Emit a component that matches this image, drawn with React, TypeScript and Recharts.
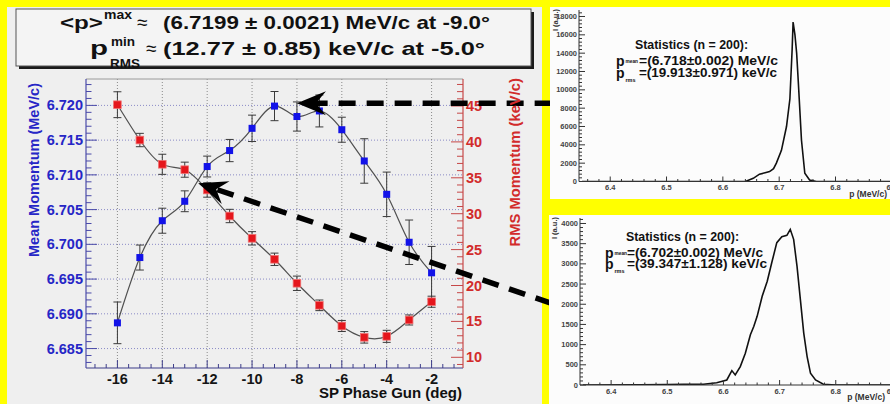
import React from 'react';
import { ComposedChart, LineChart, Line, XAxis, YAxis, ErrorBar, ReferenceLine } from 'recharts';

const FONT = "'Liberation Sans', Arial, Helvetica, sans-serif";

// ---------- main scan data ----------
const phaseDeg = [-16, -15, -14, -13, -12, -11, -10, -9, -8, -7, -6, -5, -4, -3, -2];
const meanMomentum = [6.6887, 6.6981, 6.7034, 6.7062, 6.7112, 6.7135, 6.7167, 6.7199, 6.7184, 6.7192, 6.7165, 6.712, 6.7072, 6.7003, 6.6959];
const meanError = [0.003, 0.0018, 0.0018, 0.0015, 0.0015, 0.0016, 0.0019, 0.0021, 0.0021, 0.0023, 0.0018, 0.0032, 0.0032, 0.0032, 0.0038];
const rmsMomentum = [45.18, 40.26, 36.88, 36.13, 33.3, 29.68, 26.57, 23.65, 20.31, 17.24, 14.36, 12.78, 12.92, 15.2, 17.74];
const rmsError = [1.8, 0.93, 1.4, 1.05, 1.0, 0.93, 0.93, 0.86, 1.0, 0.74, 0.77, 0.8, 0.84, 0.7, 0.77];

const phaseTicks = [-16, -14, -12, -10, -8, -6, -4, -2];
const phaseTickLabels = ['-16', '-14', '-12', '-10', '-8', '-6', '-4', '-2'];
const meanTicks = [6.685, 6.69, 6.695, 6.7, 6.705, 6.71, 6.715, 6.72];
const meanTickLabels = ['6.685', '6.690', '6.695', '6.700', '6.705', '6.710', '6.715', '6.720'];
const rmsTicks = [10, 15, 20, 25, 30, 35, 40, 45];
const rmsTickLabels = ['10', '15', '20', '25', '30', '35', '40', '45'];

const phaseDomain = [-17.4, -0.6];
const meanDomain = [6.6822, 6.7238];
const rmsDomain = [8.51, 48.76];

// annotation arrows (data coordinates, left axis): [tail, tip]
const arrowMax = [{ x: 3.35, y: 6.7203 }, { x: -8.0, y: 6.7203 }];
const arrowMin = [{ x: 3.35, y: 6.6915 }, { x: -12.4, y: 6.7088 }];

// ---------- histograms ----------
const topP = [6.35, 6.6, 6.64, 6.654, 6.665, 6.675, 6.683, 6.69, 6.695, 6.704, 6.713, 6.719, 6.723, 6.7247, 6.728, 6.731, 6.734, 6.7396, 6.7455, 6.754, 6.766, 6.95];
const topI = [0, 0, 0, 350, 800, 950, 1080, 1400, 2000, 3400, 6000, 9000, 14400, 17400, 16000, 14000, 10800, 4500, 900, 160, 0, 0];
const botP = [6.35, 6.45, 6.5, 6.53, 6.5645, 6.588, 6.606, 6.615, 6.621, 6.63, 6.639, 6.648, 6.654, 6.66, 6.669, 6.678, 6.686, 6.695, 6.704, 6.713, 6.719, 6.725, 6.731, 6.737, 6.743, 6.749, 6.755, 6.764, 6.778, 6.8, 6.95];
const botI = [0, 5, 10, 15, 20, 57, 124, 356, 250, 455, 788, 1244, 1450, 1700, 2197, 2570, 3027, 3525, 3674, 3706, 3855, 3607, 2942, 2114, 1286, 704, 291, 124, 20, 0, 0];

const histPTicks = [6.4, 6.5, 6.6, 6.7, 6.8, 6.9];
const histPTickLabels = ['6.4', '6.5', '6.6', '6.7', '6.8', '6.9'];
const topITicks = [0, 2000, 4000, 6000, 8000, 10000, 12000, 14000, 16000, 18000];
const topITickLabels = ['0', '2000', '4000', '6000', '8000', '10000', '12000', '14000', '16000', '18000'];
const botITicks = [0, 500, 1000, 1500, 2000, 2500, 3000, 3500, 4000];
const botITickLabels = ['0', '500', '1000', '1500', '2000', '2500', '3000', '3500', '4000'];
const histPDomain = [6.3446, 6.95];
const topIDomain = [0, 18709];
const botIDomain = [0, 4136];

// ---------- helpers ----------
const range = (a: number, b: number, s: number) => {
  const out: number[] = [];
  const n = Math.round((b - a) / s);
  for (let i = 0; i <= n; i++) out.push(+(a + i * s).toFixed(6));
  return out;
};

const phaseMinor = range(-17, -1, 0.5);
const meanMinor = range(6.683, 6.723, 0.001);
const rmsMinor = range(9, 48, 1);
const histPMinor = range(6.36, 6.94, 0.02);
const topIMinor = range(0, 18400, 400);
const botIMinor = range(0, 4100, 100);

const scanRows = phaseDeg.map((x, i) => ({
  x,
  mean: meanMomentum[i],
  meanErr: meanError[i],
  rms: rmsMomentum[i],
  rmsErr: rmsError[i],
}));
const topRows = topP.map((p, i) => ({ p, i: topI[i] }));
const botRows = botP.map((p, i) => ({ p, i: botI[i] }));

type TickOpts = {
  side: 'left' | 'right' | 'bottom';
  majors: number[];
  labels: string[];
  majorLen: number;
  minorLen: number;
  lineColor: string;
  textColor: string;
  fontSize: number;
  bold: boolean;
  gap: number;
};

const makeTick = (o: TickOpts) => (props: any) => {
  const { x, y, payload } = props;
  const v = Number(payload?.value);
  const idx = o.majors.findIndex((m) => Math.abs(m - v) < 1e-6);
  const major = idx >= 0;
  const len = major ? o.majorLen : o.minorLen;
  const tp = {
    fill: o.textColor,
    fontSize: o.fontSize,
    fontWeight: o.bold ? 'bold' : 'normal',
    fontFamily: FONT,
  } as any;
  if (o.side === 'left') {
    return (
      <g>
        <line x1={x} x2={x + len} y1={y} y2={y} stroke={o.lineColor} strokeWidth={1} />
        {major && (
          <text x={x - o.gap} y={y} textAnchor="end" dominantBaseline="central" {...tp}>
            {o.labels[idx]}
          </text>
        )}
      </g>
    );
  }
  if (o.side === 'right') {
    return (
      <g>
        <line x1={x} x2={x - len} y1={y} y2={y} stroke={o.lineColor} strokeWidth={1} />
        {major && (
          <text x={x + o.gap} y={y} textAnchor="start" dominantBaseline="central" {...tp}>
            {o.labels[idx]}
          </text>
        )}
      </g>
    );
  }
  return (
    <g>
      <line x1={x} x2={x} y1={y} y2={y - len} stroke={o.lineColor} strokeWidth={1} />
      {major && (
        <text x={x} y={y + o.gap} textAnchor="middle" dominantBaseline="central" {...tp}>
          {o.labels[idx]}
        </text>
      )}
    </g>
  );
};

const BLUE_TEXT = '#2626c6';
const BLUE_AXIS = '#4a4aa8';
const RED_TEXT = '#d22b2b';
const RED_AXIS = '#c64848';
const NAVY = '#3d3d8a';

const meanTick = makeTick({ side: 'left', majors: meanTicks, labels: meanTickLabels, majorLen: 11, minorLen: 5.5, lineColor: BLUE_AXIS, textColor: BLUE_TEXT, fontSize: 14.5, bold: true, gap: 3 });
const rmsTick = makeTick({ side: 'right', majors: rmsTicks, labels: rmsTickLabels, majorLen: 12, minorLen: 6, lineColor: RED_AXIS, textColor: RED_TEXT, fontSize: 14.5, bold: true, gap: 3 });
const phaseTick = makeTick({ side: 'bottom', majors: phaseTicks, labels: phaseTickLabels, majorLen: 8, minorLen: 4, lineColor: NAVY, textColor: '#151515', fontSize: 14.5, bold: true, gap: 11 });

const hpTick = makeTick({ side: 'bottom', majors: histPTicks, labels: histPTickLabels, majorLen: 5, minorLen: 2.5, lineColor: '#333', textColor: '#444', fontSize: 7.5, bold: true, gap: 6 });
const topITick = makeTick({ side: 'left', majors: topITicks, labels: topITickLabels, majorLen: 6, minorLen: 3, lineColor: '#333', textColor: '#444', fontSize: 7.5, bold: true, gap: 2 });
const botITick = makeTick({ side: 'left', majors: botITicks, labels: botITickLabels, majorLen: 6, minorLen: 3, lineColor: '#333', textColor: '#444', fontSize: 7.5, bold: true, gap: 2 });

const ArrowShape = (props: any) => {
  const { x1, y1, x2, y2 } = props;
  const dx = x2 - x1;
  const dy = y2 - y1;
  const len = Math.hypot(dx, dy) || 1;
  const ux = dx / len;
  const uy = dy / len;
  const px = -uy;
  const py = ux;
  const L = 29;
  const W = 12;
  const N = 19;
  const bx = x2 - ux * L;
  const by = y2 - uy * L;
  const nx = x2 - ux * N;
  const ny = y2 - uy * N;
  return (
    <g>
      <line x1={x1} y1={y1} x2={nx} y2={ny} stroke="#000" strokeWidth={5.5} strokeDasharray="17 11" />
      <polygon points={`${x2},${y2} ${bx + px * W},${by + py * W} ${nx},${ny} ${bx - px * W},${by - py * W}`} fill="#000" />
    </g>
  );
};

const blueDot = (p: any) => (
  <rect key={`b${p.index}`} x={p.cx - 3.5} y={p.cy - 3.5} width={7} height={7} fill="#1212e8" />
);
const redDot = (p: any) => (
  <rect key={`r${p.index}`} x={p.cx - 3.8} y={p.cy - 3.8} width={7.6} height={7.6} fill="#e5161c" stroke="#f07070" strokeWidth={0.8} />
);

function MainChart() {
  return (
    <ComposedChart width={560} height={404} data={scanRows} margin={{ top: 79, right: 0, bottom: 0, left: 0 }}>
      <XAxis
        dataKey="x"
        type="number"
        domain={phaseDomain}
        allowDataOverflow
        ticks={phaseMinor}
        interval={0}
        tickSize={0}
        tickMargin={0}
        tickLine={false}
        axisLine={{ stroke: NAVY, strokeWidth: 1.2 }}
        height={36}
        tick={phaseTick}
      />
      <YAxis
        yAxisId="l"
        orientation="left"
        type="number"
        width={86}
        domain={meanDomain}
        allowDataOverflow
        ticks={meanMinor}
        interval={0}
        tickSize={0}
        tickMargin={0}
        tickLine={false}
        axisLine={{ stroke: BLUE_AXIS, strokeWidth: 1.2 }}
        tick={meanTick}
      />
      <YAxis
        yAxisId="r"
        orientation="right"
        type="number"
        width={97}
        domain={rmsDomain}
        allowDataOverflow
        ticks={rmsMinor}
        interval={0}
        tickSize={0}
        tickMargin={0}
        tickLine={false}
        axisLine={{ stroke: RED_AXIS, strokeWidth: 1.2 }}
        tick={rmsTick}
      />
      {meanTicks.map((v) => (
        <ReferenceLine key={`hg${v}`} yAxisId="l" y={v} stroke="#8a8ac6" strokeDasharray="1 2" />
      ))}
      {phaseTicks.map((v) => (
        <ReferenceLine key={`vg${v}`} yAxisId="l" x={v} stroke="#8a8a8a" strokeDasharray="1 2" />
      ))}
      <ReferenceLine yAxisId="l" y={meanDomain[1]} stroke="#9a9a9a" />
      <Line
        yAxisId="l"
        dataKey="mean"
        type="natural"
        stroke="#505050"
        strokeWidth={1.2}
        dot={blueDot}
        activeDot={false}
        isAnimationActive={false}
      >
        <ErrorBar dataKey="meanErr" direction="y" width={4} stroke="#3a3a3a" strokeWidth={1} isAnimationActive={false} />
      </Line>
      <Line
        yAxisId="r"
        dataKey="rms"
        type="natural"
        stroke="#505050"
        strokeWidth={1.2}
        dot={redDot}
        activeDot={false}
        isAnimationActive={false}
      >
        <ErrorBar dataKey="rmsErr" direction="y" width={4} stroke="#3a3a3a" strokeWidth={1} isAnimationActive={false} />
      </Line>
      <ReferenceLine yAxisId="l" segment={arrowMax} ifOverflow="visible" shape={ArrowShape} zIndex={2000} />
      <ReferenceLine yAxisId="l" segment={arrowMin} ifOverflow="visible" shape={ArrowShape} zIndex={2000} />
    </ComposedChart>
  );
}

function Header() {
  const t = { fontFamily: FONT, fontWeight: 'bold', fill: '#111' } as any;
  return (
    <svg width={545} height={75} style={{ position: 'absolute', left: 0, top: 0 }}>
      <rect x={19} y={12} width={515} height={57} fill="#1a1a1a" />
      <rect x={16} y={9} width={515} height={57} fill="#f4f4f4" stroke="#555" strokeWidth={1} />
      <text x={60} y={28.5} fontSize={19} textLength={43} lengthAdjust="spacingAndGlyphs" {...t}>&lt;p&gt;</text>
      <text x={104} y={18.5} fontSize={13} textLength={28} lengthAdjust="spacingAndGlyphs" {...t}>max</text>
      <text x={137} y={28.5} fontSize={19} {...t} fontWeight="normal">≈</text>
      <text x={163} y={28.5} fontSize={19} textLength={327} lengthAdjust="spacingAndGlyphs" {...t}>(6.7199 ± 0.0021) MeV/c at -9.0°</text>
      <text x={90} y={55} fontSize={21} textLength={18} lengthAdjust="spacingAndGlyphs" {...t}>p</text>
      <text x={111} y={46} fontSize={13} textLength={24} lengthAdjust="spacingAndGlyphs" {...t}>min</text>
      <text x={110} y={67.5} fontSize={13} textLength={30} lengthAdjust="spacingAndGlyphs" {...t}>RMS</text>
      <text x={146} y={55} fontSize={19} {...t} fontWeight="normal">≈</text>
      <text x={163} y={55} fontSize={19} textLength={322} lengthAdjust="spacingAndGlyphs" {...t}>(12.77 ± 0.85) keV/c at -5.0°</text>
    </svg>
  );
}

function AxisTitles() {
  return (
    <svg width={560} height={404} style={{ position: 'absolute', left: 0, top: 0, pointerEvents: 'none' }}>
      <text x={34} y={83} transform="rotate(-90, 34, 83)" textAnchor="end" dominantBaseline="central" fontFamily={FONT} fontWeight="bold" fontSize={14.5} fill={BLUE_TEXT}>
        Mean Momentum (MeV/c)
      </text>
      <text x={515} y={78} transform="rotate(-90, 515, 78)" textAnchor="end" dominantBaseline="central" fontFamily={FONT} fontWeight="bold" fontSize={14.8} fill={RED_TEXT}>
        RMS Momentum (keV/c)
      </text>
      <text x={462} y={398} textAnchor="end" fontFamily={FONT} fontWeight="bold" fontSize={15} fill="#111">
        SP Phase Gun (deg)
      </text>
    </svg>
  );
}

type StatProps = { sx: number; px: number; vx: number; b0: number; b1: number; b2: number; mean: string; rms: string; wMean: number; wRms: number };
function Stats({ sx, px, vx, b0, b1, b2, mean, rms, wMean, wRms }: StatProps) {
  const t = { fontFamily: FONT, fontWeight: 'bold', fill: '#111' } as any;
  return (
    <svg width={345} height={200} style={{ position: 'absolute', left: 0, top: 0, pointerEvents: 'none' }}>
      <text x={sx} y={b0} fontSize={12.5} textLength={113} lengthAdjust="spacingAndGlyphs" {...t}>Statistics (n = 200):</text>
      <text x={px} y={b1 + 1} fontSize={14} {...t}>p</text>
      <text x={px + 9.5} y={b1 - 1.5} fontSize={6} textLength={12.5} lengthAdjust="spacingAndGlyphs" {...t}>mean</text>
      <text x={vx} y={b1} fontSize={12} textLength={wMean} lengthAdjust="spacingAndGlyphs" {...t}>{mean}</text>
      <text x={px} y={b2 + 1} fontSize={14} {...t}>p</text>
      <text x={px + 9.5} y={b2 + 4.5} fontSize={6} textLength={10} lengthAdjust="spacingAndGlyphs" {...t}>rms</text>
      <text x={vx} y={b2} fontSize={12} textLength={wRms} lengthAdjust="spacingAndGlyphs" {...t}>{rms}</text>
    </svg>
  );
}

function HistTop() {
  return (
    <div style={{ position: 'absolute', left: 550, top: 7, width: 340, height: 192, background: '#fcfcfc', overflow: 'hidden' }}>
      <LineChart width={380} height={192} data={topRows} margin={{ top: 3, right: 10, bottom: 0, left: 0 }}>
        <XAxis dataKey="p" type="number" domain={histPDomain} allowDataOverflow ticks={histPMinor} interval={0} tickSize={0} tickMargin={0} tickLine={false} axisLine={{ stroke: '#333' }} height={17.5} tick={hpTick} />
        <YAxis type="number" width={29} domain={topIDomain} allowDataOverflow ticks={topIMinor} interval={0} tickSize={0} tickMargin={0} tickLine={false} axisLine={{ stroke: '#333' }} tick={topITick} />
        <Line dataKey="i" type="linear" stroke="#111" strokeWidth={1.6} dot={false} activeDot={false} isAnimationActive={false} />
      </LineChart>
      <svg width={340} height={192} style={{ position: 'absolute', left: 0, top: 0, pointerEvents: 'none' }}>
        <text x={5} y={2} transform="rotate(-90, 5, 2)" textAnchor="end" dominantBaseline="central" fontFamily={FONT} fontWeight="bold" fontSize={7.5} fill="#333">I (a.u.)</text>
        <text x={337} y={190} textAnchor="end" fontFamily={FONT} fontWeight="bold" fontSize={8.5} fill="#333">p (MeV/c)</text>
      </svg>
      <Stats sx={85} px={66} vx={89} b0={41.5} b1={57.5} b2={70} mean="=(6.718±0.002) MeV/c" rms="=(19.913±0.971) keV/c" wMean={139} wRms={138} />
    </div>
  );
}

function HistBottom() {
  return (
    <div style={{ position: 'absolute', left: 549, top: 215, width: 341, height: 189, background: '#fcfcfc', overflow: 'hidden' }}>
      <LineChart width={380} height={189} data={botRows} margin={{ top: 3, right: 9, bottom: 0, left: 0 }}>
        <XAxis dataKey="p" type="number" domain={histPDomain} allowDataOverflow ticks={histPMinor} interval={0} tickSize={0} tickMargin={0} tickLine={false} axisLine={{ stroke: '#333' }} height={19} tick={hpTick} />
        <YAxis type="number" width={31} domain={botIDomain} allowDataOverflow ticks={botIMinor} interval={0} tickSize={0} tickMargin={0} tickLine={false} axisLine={{ stroke: '#333' }} tick={botITick} />
        <Line dataKey="i" type="linear" stroke="#111" strokeWidth={1.6} dot={false} activeDot={false} isAnimationActive={false} />
      </LineChart>
      <svg width={341} height={189} style={{ position: 'absolute', left: 0, top: 0, pointerEvents: 'none' }}>
        <text x={5} y={2} transform="rotate(-90, 5, 2)" textAnchor="end" dominantBaseline="central" fontFamily={FONT} fontWeight="bold" fontSize={7.5} fill="#333">I (a.u.)</text>
        <text x={336} y={185} textAnchor="end" fontFamily={FONT} fontWeight="bold" fontSize={8.5} fill="#333">p (MeV/c)</text>
      </svg>
      <Stats sx={77} px={56} vx={78} b0={25.5} b1={41.5} b2={53} mean="=(6.702±0.002) MeV/c" rms="=(39.347±1.128) keV/c" wMean={136} wRms={140} />
    </div>
  );
}

export default function App() {
  return (
    <div style={{ position: 'absolute', left: 0, top: 0, width: 890, height: 404, background: '#ffff00', overflow: 'hidden', fontFamily: FONT }}>
      <div style={{ position: 'absolute', left: 7, top: 7, width: 535, height: 397, background: '#efefef' }} />
      <Header />
      <div style={{ position: 'absolute', left: 0, top: 0, width: 560, height: 404 }}>
        <MainChart />
      </div>
      <AxisTitles />
      <HistTop />
      <HistBottom />
    </div>
  );
}
